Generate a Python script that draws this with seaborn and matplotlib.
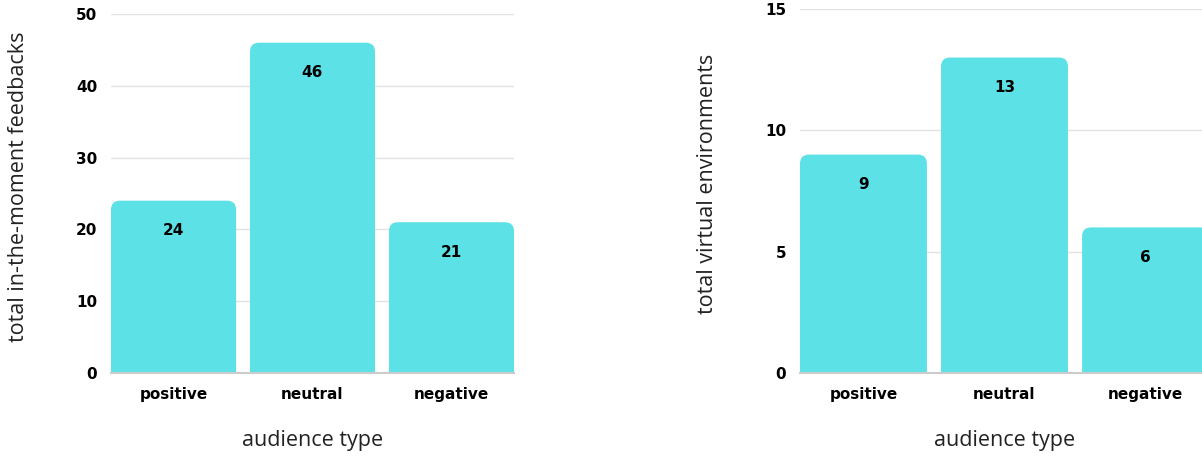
import matplotlib
matplotlib.use("Agg")
import matplotlib.pyplot as plt
import seaborn as sns
import pandas as pd
from matplotlib.patches import FancyBboxPatch

# Data
categories = ["positive", "neutral", "negative"]
feedback_counts = [24, 46, 21]
environment_counts = [9, 13, 6]

BAR_COLOR = "#5CE1E6"
GRID_COLOR = "#e3e3e3"
BASE_COLOR = "#cccccc"
TEXT_COLOR = "#222222"

sns.set_theme(style="white")
plt.rcParams["font.family"] = ["Open Sans", "DejaVu Sans"]

W, H = 1202, 459
fig = plt.figure(figsize=(W / 100, H / 100), dpi=100)


def px_axes(left, right, top, bottom):
    return fig.add_axes([left / W, 1 - bottom / H, (right - left) / W, (bottom - top) / H])


def rounded_bars(ax, radius_px=9):
    """Swap the seaborn rectangles for bars with rounded top corners."""
    fig.canvas.draw()
    x_px = ax.transData.transform([(0, 0), (1, 0)])
    y_px = ax.transData.transform([(0, 0), (0, 1)])
    xs = abs(x_px[1][0] - x_px[0][0])
    ys = abs(y_px[1][1] - y_px[0][1])
    r = radius_px / xs
    aspect = xs / ys
    for p in list(ax.patches):
        x, y = p.get_x(), p.get_y()
        w, h = p.get_width(), p.get_height()
        extra = 2 * radius_px / ys
        fb = FancyBboxPatch((x, y - extra), w, h + extra,
                            boxstyle=f"round,pad=0,rounding_size={r}",
                            mutation_aspect=aspect,
                            facecolor=BAR_COLOR, edgecolor="none",
                            clip_on=True, zorder=2)
        p.remove()
        ax.add_patch(fb)


def draw_panel(ax, values, ymax, step, ylabel, label_x):
    df = pd.DataFrame({"audience type": categories, "count": values})
    sns.barplot(data=df, x="audience type", y="count", color=BAR_COLOR,
                saturation=1, width=0.9, ax=ax, zorder=2)
    ax.set_xlim(-0.45, 2.45)
    ax.set_ylim(0, ymax)
    ax.set_yticks(range(0, ymax + 1, step))
    ax.yaxis.grid(True, color=GRID_COLOR, linewidth=1, zorder=0)
    ax.set_axisbelow(True)
    for s in ["top", "right", "left"]:
        ax.spines[s].set_visible(False)
    ax.spines["bottom"].set_color(BASE_COLOR)
    ax.spines["bottom"].set_linewidth(1.5)
    ax.tick_params(axis="both", length=0, labelsize=11, colors="black")
    ax.tick_params(axis="y", pad=10)
    ax.tick_params(axis="x", pad=10)
    for t in ax.get_xticklabels() + ax.get_yticklabels():
        t.set_fontweight("bold")
        t.set_family("DejaVu Sans")
    ax.set_ylabel(ylabel, fontsize=15.5, color=TEXT_COLOR)
    ax.set_xlabel("audience type", fontsize=15.5, color=TEXT_COLOR)
    h_px = ax.get_position().height * H
    w_px = ax.get_position().width * W
    ax.yaxis.set_label_coords(label_x / w_px, 0.5 + 7 / h_px)
    ax.xaxis.set_label_coords(0.5, -57 / h_px)
    for i, v in enumerate(values):
        ax.annotate(str(v), (i, v), xytext=(0, -30), textcoords="offset pixels",
                    ha="center", va="center", fontsize=11, fontweight="bold",
                    family="DejaVu Sans", color="black", zorder=3)
    rounded_bars(ax)


ax1 = px_axes(111, 514, 14, 373)
draw_panel(ax1, feedback_counts, 50, 10, "total in-the-moment feedbacks", -82)

ax2 = px_axes(800, 1209, 9, 373)
draw_panel(ax2, environment_counts, 15, 5, "total virtual environments", -82)

fig.savefig("out.png", dpi=100)
